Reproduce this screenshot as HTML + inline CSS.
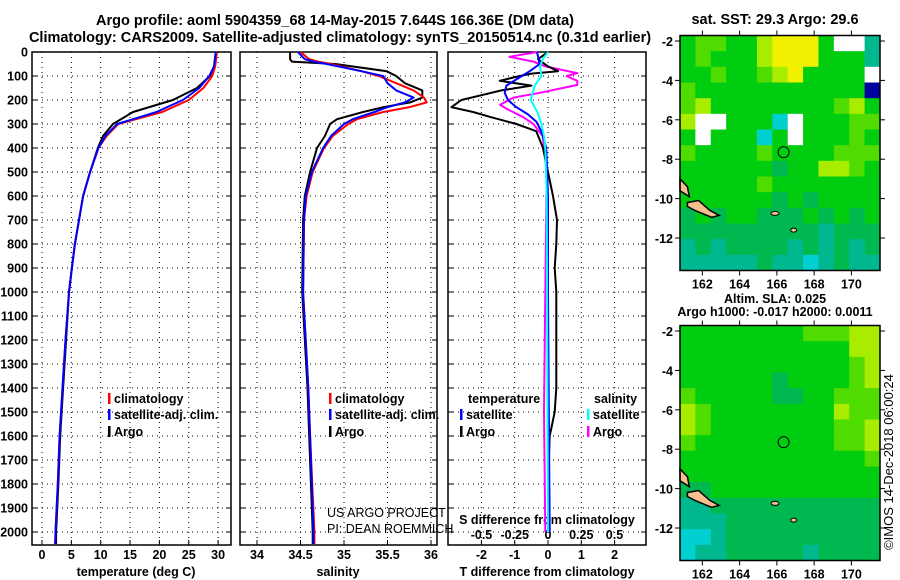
<!DOCTYPE html>
<html><head><meta charset="utf-8"><style>
html,body{margin:0;padding:0;background:#fff;}
svg{display:block;font-family:"Liberation Sans",sans-serif;}
.b{font-weight:bold;font-size:12.5px;}
.t{font-weight:bold;font-size:14.5px;}
</style></head><body>
<svg id="c" width="900" height="580" viewBox="0 0 900 580" xmlns="http://www.w3.org/2000/svg">
<text class="t" x="335" y="25" text-anchor="middle">Argo profile: aoml 5904359_68 14-May-2015 7.644S 166.36E (DM data)</text>
<text class="t" x="340" y="42" text-anchor="middle">Climatology: CARS2009. Satellite-adjusted climatology: synTS_20150514.nc (0.31d earlier)</text>
<text class="t" x="775" y="24" text-anchor="middle">sat. SST: 29.3 Argo: 29.6</text>
<text class="b" x="775" y="303" text-anchor="middle">Altim. SLA: 0.025</text>
<text class="b" x="775" y="316" text-anchor="middle">Argo h1000: -0.017 h2000: 0.0011</text>
<text x="893" y="462" font-size="13" text-anchor="middle" transform="rotate(-90 893 462)">©IMOS 14-Dec-2018 06:00:24</text>
<g id="g"></g>
</svg>
<script>
// ---- profile data ----
const tDepth = [0,60,100,150,200,250,300,350,400,500,600,700,800,900,1000,1200,1400,1600,1800,2000,2050];
const tArgo  = [29.6,29.3,28.6,26.4,22.3,15.5,12.1,10.4,9.5,8.2,7.0,6.3,5.6,5.1,4.6,4.1,3.6,3.1,2.8,2.4,2.4];
const tClim  = [29.8,29.5,29.0,27.5,25.0,20.5,13.0,11.0,9.6,8.2,7.0,6.3,5.6,5.1,4.6,4.0,3.5,3.0,2.7,2.3,2.2];
const tSat   = [29.6,29.3,28.5,26.8,24.0,19.5,12.8,10.8,9.6,8.2,7.0,6.3,5.6,5.1,4.6,4.0,3.5,3.0,2.7,2.3,2.3];
const sDepth = [0,30,40,50,80,100,130,160,190,210,230,250,280,300,350,400,500,600,700,1000,1400,1600,2000,2050];
const sArgo  = [34.38,34.38,34.40,34.9,35.49,35.6,35.7,35.9,35.9,35.76,35.45,35.22,34.92,34.84,34.78,34.69,34.61,34.55,34.53,34.52,34.58,34.6,34.64,34.64];
const sClim  = [34.5,34.6,34.7,34.85,35.2,35.4,35.6,35.8,35.92,35.95,35.75,35.45,35.15,35.05,34.87,34.77,34.64,34.57,34.54,34.53,34.59,34.61,34.66,34.66];
const sSat   = [34.47,34.55,34.65,34.8,35.2,35.45,35.5,35.6,35.8,35.7,35.5,35.35,35.1,35.0,34.85,34.76,34.63,34.56,34.54,34.53,34.59,34.61,34.65,34.65];
const dtDepth = [0,30,60,80,90,100,120,140,160,180,200,230,250,270,300,330,400,500,600,700,800,900,1000,1200,1400,1500,1600,1800,2000];
const dtArgo  = [0,-0.3,0,0.3,-0.5,-0.85,-1.45,-0.5,-1.4,-2.0,-2.6,-2.9,-2.25,-1.75,-0.95,-0.35,-0.15,0,0.15,0.27,0.25,0.2,0.25,0.25,0.25,0.2,0.05,0,0];
const dtSatDepth = [0,50,80,110,140,170,200,230,260,290,330,400,600,1000,2000];
const dtSat   = [-0.33,-0.25,-0.55,-0.9,-1.25,-1.3,-1.2,-0.95,-0.6,-0.35,-0.2,-0.05,0,0,0.05];
const dsDepth = [0,20,40,60,88,100,120,137,170,190,220,240,270,300,350,400,500,1000,1500,2000];
const dsArgo  = [-0.08,-0.29,-0.11,-0.02,0.22,0.14,0.22,0.22,-0.06,-0.26,-0.36,-0.3,-0.19,-0.11,-0.04,-0.03,-0.01,-0.02,-0.03,-0.02];
const dsSatDepth = [0,30,60,100,140,180,200,250,300,350,400,600,2000];
const dsSat   = [0,-0.04,-0.06,-0.05,-0.1,-0.12,-0.13,-0.08,-0.05,-0.03,-0.02,-0.01,0];
const depthTicks = [0,100,200,300,400,500,600,700,800,900,1000,1100,1200,1300,1400,1500,1600,1700,1800,1900,2000];
const tTicks = [0,5,10,15,20,25,30];
const sTicks = [34,34.5,35,35.5,36];
const sTickLabels = ["34","34.5","35","35.5","36"];
const dtTicks = [-2,-1,0,1,2];
const dsTicks = [-0.5,-0.25,0,0.25,0.5];
const dsTickLabels = ["-0.5","-0.25","0","0.25","0.5"];
// ---- map data (colour class per cell, W = no data) ----
const sstRows = ["3443356663WW1","3433356663331","334334563333W","433333333333B","4533333333453","5WW3330W33344","3W33303W33343","4333343333444","3333332335543","3333343333333","3333332323333","2323322232323","2222222221222","1212222121212","1111121101211"];
const slaRows = ["3333333344455","3333333333355","3333333333345","3333332333345","4333332233444","5433333333544","5433333333445","4333333333445","3333333333334","3333333333333","2233333333333","1122222222222","1112222222222","0012222222222","0112222212222"];
const mapLonTicks = [162,164,166,168,170];
const mapLatTicks = [-2,-4,-6,-8,-10,-12];

const NS="http://www.w3.org/2000/svg";
const G=document.getElementById('g');
function mk(tag,at,parent){const e=document.createElementNS(NS,tag);for(const k in at)e.setAttribute(k,at[k]);(parent||G).appendChild(e);return e;}
const Y0=52,PB=545;
const yD=d=>Math.min(PB,Y0+d*0.24);
const xT=v=>42+v*5.87;
const xS=v=>257+(v-34)*87;
const xDT=v=>548+v*33.3;
const xDS=v=>548+v*133;
const panels=[[32,231,'temperature-panel'],[240,437,'salinity-panel'],[448,646,'difference-panel']];
panels.forEach(p=>{
  depthTicks.forEach(d=>{const l=mk('line',{x1:p[0],x2:p[1],y1:yD(d),y2:yD(d),stroke:'#000','stroke-width':1,'stroke-dasharray':'1 4'});
    
    
    mk('line',{x1:p[0],x2:p[0]+5,y1:yD(d),y2:yD(d),stroke:'#000'});mk('line',{x1:p[1]-5,x2:p[1],y1:yD(d),y2:yD(d),stroke:'#000'});});
});
function vgrid(xs,f,p){xs.forEach(v=>{const l=mk('line',{x1:f(v),x2:f(v),y1:Y0,y2:PB,stroke:'#000','stroke-dasharray':'1 4'});
  
  
  mk('line',{x1:f(v),x2:f(v),y1:PB-5,y2:PB,stroke:'#000'});});}
vgrid(tTicks,xT);vgrid(sTicks,xS);vgrid(dtTicks,xDT);
panels.forEach(p=>{const r=mk('rect',{x:p[0],y:Y0,width:p[1]-p[0],height:PB-Y0,fill:'none',stroke:'#000','stroke-width':1.5});
  
  });
depthTicks.forEach(d=>{const t=mk('text',{x:28,y:yD(d)+4.5,'text-anchor':'end',class:'b'});t.textContent=d;
  
  });
function xlabels(xs,labs,f,y){xs.forEach((v,i)=>{const t=mk('text',{x:f(v),y:y,'text-anchor':'middle',class:'b'});t.textContent=labs[i];
  
  });}
xlabels(tTicks,tTicks.map(String),xT,559);
xlabels(sTicks,sTickLabels,xS,559);
xlabels(dtTicks,dtTicks.map(String),xDT,559);
xlabels(dsTicks,dsTickLabels,xDS,539);
function txt(s,x,y,name,anchor,cls){const t=mk('text',{x:x,y:y,'text-anchor':anchor||'start',class:cls||'b'});t.textContent=s;
  
  return t;}
txt('temperature (deg C)',136,576,'x-axis-title-temperature','middle');
txt('salinity',338,576,'x-axis-title-salinity','middle');
txt('T difference from climatology',547,576,'x-axis-title-t-diff','middle');
txt('S difference from climatology',547,524,'s-diff-axis-title','middle');
const u1=txt('US ARGO PROJECT',327,517,'project-label');u1.setAttribute('class','');u1.setAttribute('font-size','12.5');
const u2=txt('PI: DEAN ROEMMICH',327,533,'pi-label');u2.setAttribute('class','');u2.setAttribute('font-size','12.5');
function line(xs,ds,fx,col,name,w){const pts=ds.map((d,i)=>fx(xs[i]).toFixed(1)+','+yD(d).toFixed(1)).join(' ');
  const p=mk('polyline',{points:pts,fill:'none',stroke:col,'stroke-width':w||2,'stroke-linejoin':'round'});
  
  }
line(tArgo,tDepth,xT,'#000','temp-argo-line');
line(tClim,tDepth,xT,'#f00','temp-climatology-line');
line(tSat,tDepth,xT,'#00f','temp-satellite-line');
line(sArgo,sDepth,xS,'#000','sal-argo-line');
line(sClim,sDepth,xS,'#f00','sal-climatology-line');
line(sSat,sDepth,xS,'#00f','sal-satellite-line');
line(dsArgo,dsDepth,xDS,'#f0f','s-diff-argo-line');
line(dtArgo,dtDepth,xDT,'#000','t-diff-argo-line');
line(dtSat,dtSatDepth,xDT,'#00f','t-diff-satellite-line');
line(dsSat,dsSatDepth,xDS,'#0ff','s-diff-satellite-line');
function leg(x,y,col,label,name){const r=mk('rect',{x:x,y:y-10,width:2.5,height:11,fill:col});
  
  
  txt(label,x+6,y,name);}
leg(108,403,'#f00','climatology','legend-climatology');
leg(108,419,'#00f','satellite-adj. clim.','legend-satellite-adj');
leg(108,436,'#000','Argo','legend-argo');
leg(329,403,'#f00','climatology','legend2-climatology');
leg(329,419,'#00f','satellite-adj. clim.','legend2-satellite-adj');
leg(329,436,'#000','Argo','legend2-argo');
txt('temperature',468,403,'legend-temperature-header');
leg(460,419,'#00f','satellite','legend-t-satellite');
leg(460,436,'#000','Argo','legend-t-argo');
txt('salinity',594,403,'legend-salinity-header');
leg(587,419,'#0ff','satellite','legend-s-satellite');
leg(587,436,'#f0f','Argo','legend-s-argo');
// ---- maps ----
const pal={'0':'#00d0d0','1':'#00b890','2':'#00b850','3':'#00cc10','4':'#50dc00','5':'#a8ec00','6':'#f0f000','7':'#ffd000','W':'#ffffff','B':'#0000a0'};
function drawMap(rows,top,name){
  const L=680,R=880,T=top,Bt=top+235;
  const nr=rows.length,nc=rows[0].length,cw=(R-L)/nc,ch=(Bt-T)/nr;
  rows.forEach((row,i)=>{for(let j=0;j<nc;j++){const c=mk('rect',{x:L+j*cw,y:T+i*ch,width:cw+0.5,height:ch+0.5,fill:pal[row[j]]});
    
    }});
  const lx=v=>L+(v-160.8)*18.63, ly=v=>T+5.5+(-2-v)*19.7;
  const isl=mk('polygon',{points:[lx(161.2),ly(-10.2),lx(161.8),ly(-10.1),lx(162.4),ly(-10.6),lx(162.9),ly(-10.85),lx(162.5),ly(-10.95),lx(161.6),ly(-10.6),lx(161.2),ly(-10.4)].join(' '),fill:'#f5c090',stroke:'#000','stroke-width':1.5});
  
  
  mk('polygon',{points:[lx(160.8),ly(-9.0),lx(161.2),ly(-9.4),lx(161.3),ly(-9.9),lx(160.8),ly(-9.6)].join(' '),fill:'#f5c090',stroke:'#000','stroke-width':1.5});
  mk('ellipse',{cx:lx(165.9),cy:ly(-10.75),rx:4,ry:2,fill:'#f5c090',stroke:'#000'});
  mk('ellipse',{cx:lx(166.9),cy:ly(-11.6),rx:3,ry:2,fill:'#f5c090',stroke:'#000'});
  const c=mk('circle',{cx:lx(166.36),cy:ly(-7.644),r:5.5,fill:'none',stroke:'#000','stroke-width':1});
  
  
  const f=mk('rect',{x:L,y:T,width:R-L,height:Bt-T,fill:'none',stroke:'#000','stroke-width':1.5});
  
  
  mapLonTicks.forEach(v=>{mk('line',{x1:lx(v),x2:lx(v),y1:Bt,y2:Bt+5,stroke:'#000'});mk('line',{x1:lx(v),x2:lx(v),y1:T-5,y2:T,stroke:'#000'});
    const t=mk('text',{x:lx(v),y:Bt+18,'text-anchor':'middle',class:'b'});t.textContent=v;
    
    });
  mapLatTicks.forEach(v=>{mk('line',{x1:L-5,x2:L,y1:ly(v),y2:ly(v),stroke:'#000'});mk('line',{x1:R,x2:R+5,y1:ly(v),y2:ly(v),stroke:'#000'});
    const t=mk('text',{x:L-7,y:ly(v)+5,'text-anchor':'end',class:'b'});t.textContent=v;
    
    });
}
drawMap(sstRows,35.5,'sst-map');
drawMap(slaRows,325.5,'sla-map');
</script>
</body></html>
